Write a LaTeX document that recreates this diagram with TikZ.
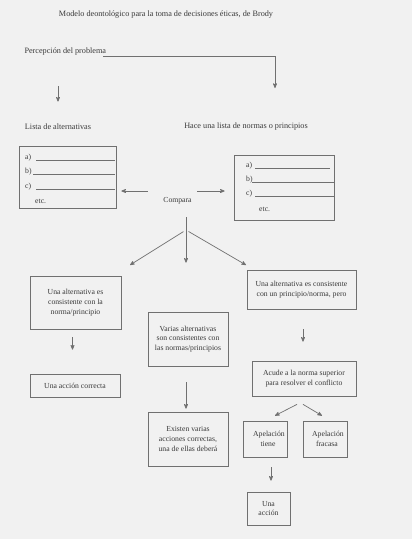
\documentclass[tikz,border=0pt]{standalone}
\usepackage{fontspec}
\setmainfont{Liberation Serif}
\usetikzlibrary{arrows,shapes,calc,positioning}
\definecolor{ink}{HTML}{3A3A3A}
\definecolor{rule}{HTML}{707070}
\definecolor{paper}{HTML}{F1F1F1}
\tikzset{
    >=stealth',
    every node/.style={text=ink, font=\fontsize{7.7}{9.7}\selectfont},
    label/.style={font=\fontsize{8.2}{10}\selectfont},
    box/.style={draw=rule, line width=0.7pt, align=center, inner sep=1pt},
    link/.style={->, draw=rule, line width=0.7pt},
}

\begin{document}
\begin{tikzpicture}[x=1pt,y=-1pt]
            \fill[paper] (0,0) rectangle (412,539);
            \useasboundingbox (0,0) rectangle (412,539);

            \node[label] (title) at (166,15) {Modelo deontológico para la toma de decisiones éticas, de Brody};
            \node[label, anchor=west] (perc) at (21,52) {Percepción del problema};
            \node[label] (lista) at (58,127) {Lista de alternativas};
            \node[label] (normas) at (246,127) {Hace una lista de normas o principios};

            % cajas con las listas
            \node[box, minimum width=97pt, minimum height=62pt] (lb) at (67.5,177) {};
            \node[box, minimum width=100pt, minimum height=65pt] (rb) at (284,187.5) {};
            \foreach \l/\x/\y/\a/\b in {a)/25/158/36/115, b)/25/172/33/115, c)/25/187/36/115,
                                     a)/246/166/255/330, b)/246/180/252/334, c)/246/194/255/334} {
                \node[anchor=west, inner sep=0pt] at (\x,\y) {\l};
                \draw[rule, line width=0.5pt] (\a,\y+2) -- (\b,\y+2);
            }
            \node[anchor=west, inner sep=0pt] (etcl) at (35,201) {etc.};
            \node[anchor=west, inner sep=0pt] (etcr) at (259,209) {etc.};

            \node (comp) at (177.5,201) {Compara};

            % resultados
            \node[box, minimum width=91pt, minimum height=53pt] (A) at (75.5,302.5)
                {Una alternativa es\\consistente con la\\norma/principio};
            \node[box, minimum width=90pt, minimum height=23pt] (acc) at (75,385.5) {Una acción correcta};
            \node[box, minimum width=80pt, minimum height=54pt] (B) at (188,339)
                {Varias alternativas\\son consistentes con\\las normas/principios};
            \node[box, minimum width=80pt, minimum height=54pt] (Ex) at (188,439)
                {Existen varias\\acciones correctas,\\una de ellas deberá};
            \node[box, minimum width=109pt, minimum height=39pt] (C) at (301.5,289.5)
                {Una alternativa es consistente\\con un principio/norma, pero};
            \node[box, minimum width=104pt, minimum height=35pt] (D) at (304,378.5)
                {Acude a la norma superior\\para resolver el conflicto};
            \node[box, minimum width=44pt, minimum height=36pt] (E) at (265,439)
                {\hspace*{8pt}Apelación\\\hspace*{6pt}tiene};
            \node[box, minimum width=44pt, minimum height=36pt] (F) at (325,439)
                {\hspace*{6pt}Apelación\\\hspace*{4pt}fracasa};
            \node[box, minimum width=43pt, minimum height=33pt] (G) at (268.5,508.5) {Una\\acción};

            % conectores
            \coordinate (turn) at (275,56);
            \coordinate (turnend) at (275,88);
            \coordinate (split) at (186,217);
            \coordinate (fork) at (186,230);
            \coordinate (tipL) at (130,265);
            \coordinate (tipR) at (246,265);

            \draw[rule, line width=0.6pt] (103,56) -- (turn);
            \draw[link] (turn) -- (turnend);
            \draw[link, shorten <=27pt, shorten >=19pt] (perc.south -| lista.north) -- (lista.north);
            \draw[link, shorten <=12pt, shorten >=5pt] ([yshift=10pt]comp.west) -- ([yshift=10pt]comp.west -| lb.east);
            \draw[link, shorten <=2pt, shorten >=9pt] ([yshift=10pt]comp.east) -- ([yshift=10pt]comp.east -| rb.west);
            \draw[link, shorten >=49pt] (split) -- (split |- B.north);
            \draw[link, shorten <=3pt] (fork) -- (tipL);
            \draw[link, shorten <=3pt] (fork) -- (tipR);
            \draw[link, shorten <=8pt, shorten >=24pt] ([xshift=-3pt]A.south) -- ([xshift=-3pt]A.south |- acc.north);
            \draw[link, shorten <=16pt, shorten >=3pt] ([xshift=-2pt]B.south) -- ([xshift=-2pt]B.south |- Ex.north);
            \draw[link, shorten <=20pt, shorten >=19pt] ([xshift=1.5pt]C.south) -- ([xshift=1.5pt]C.south |- D.north);
            \draw[link] ([xshift=-7pt,yshift=-8pt]D.south) -- ([xshift=10pt,yshift=5pt]E.north);
            \draw[link] ([xshift=-1pt,yshift=-8pt]D.south) -- ([xshift=-3pt,yshift=5pt]F.north);
            \draw[link, shorten <=10pt, shorten >=11pt] ([xshift=6pt]E.south) -- ([xshift=6pt]E.south |- G.north);
        \end{tikzpicture}
\end{document}
